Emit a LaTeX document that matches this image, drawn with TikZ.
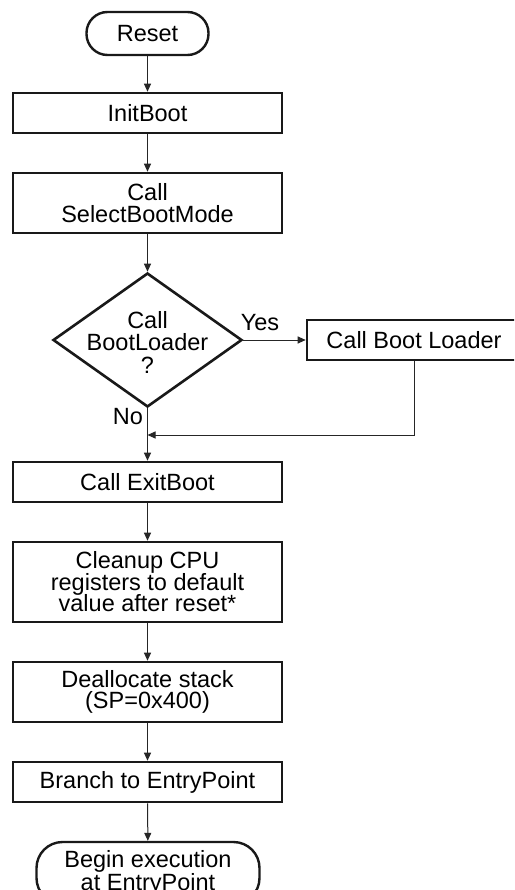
\documentclass[tikz,border=0pt]{standalone}
\usepackage{fontspec}
\setmainfont{Liberation Sans}
\usetikzlibrary{arrows.meta,shapes.geometric}
\tikzset{
  txt/.style={font={\fontsize{23.5}{21.5}\selectfont\lineskiplimit=-30pt}, text=black},
  stepbox/.style={txt, draw=black!90, line width=2.6pt, rectangle, minimum width=269pt, align=center, inner sep=0pt},
  term/.style={txt, draw=black!90, line width=2.4pt, rectangle, align=center, inner sep=0pt},
  conn/.style={draw=black!85, line width=1pt, -{Triangle[length=8pt,width=7pt]}},
  lbl/.style={txt, inner sep=0pt}
}
\begin{document}
\begin{tikzpicture}[x=1pt,y=-1pt]
\clip (0,0) rectangle (514,890);
\fill[white] (0,0) rectangle (514,890);
\node[term, minimum width=122pt, minimum height=43pt, rounded corners=21pt] (reset) at (147.5,33.5) {Reset};
\node[stepbox, minimum height=40pt] (init) at (147.5,113) {InitBoot};
\node[stepbox, minimum height=60pt] (sbm) at (147.5,203) {Call\\SelectBootMode};
\node[diamond, draw=black!90, line width=2.6pt, minimum width=189pt, minimum height=134pt, inner sep=0pt] (dec) at (147.5,340) {};
\node[lbl, align=center, font={\fontsize{23.5}{22.5}\selectfont\lineskiplimit=-30pt}] (dectext) at (147.5,342) {Call\\BootLoader\\?};
\node[stepbox, minimum width=214pt, minimum height=40pt] (cbl) at (414,340) {Call Boot Loader};
\node[stepbox, minimum height=40pt] (exit) at (147.5,482) {Call ExitBoot};
\node[stepbox, minimum height=80pt] (clean) at (147.5,582) {Cleanup CPU\\registers to default\\value after reset*};
\node[stepbox, minimum height=60pt] (dealloc) at (147.5,692) {Deallocate stack\\(SP=0x400)};
\node[stepbox, minimum height=40pt] (branch) at (147.5,782) {Branch to EntryPoint};
\node[term, minimum width=223pt, minimum height=62pt, rounded corners=26pt, font={\fontsize{23.5}{22.5}\selectfont\lineskiplimit=-30pt}] (begin) at (148,873) {Begin execution\\at EntryPoint};
\node[lbl] (yes) at (260,323) {Yes};
\node[lbl] (no) at (128,417) {No};
\coordinate (merge) at (147.5,435);
\draw[conn] (reset) -- (init);
\draw[conn] (init) -- (sbm);
\draw[conn] (sbm) -- (dec);
\draw[conn] (dec.east) -- (cbl.west);
\draw[conn] (dec.south) -- (exit.north);
\draw[conn] (cbl.south) |- (merge);
\draw[conn] (exit) -- (clean);
\draw[conn] (clean) -- (dealloc);
\draw[conn] (dealloc) -- (branch);
\draw[conn] (branch) -- (begin);
\end{tikzpicture}
\end{document}
